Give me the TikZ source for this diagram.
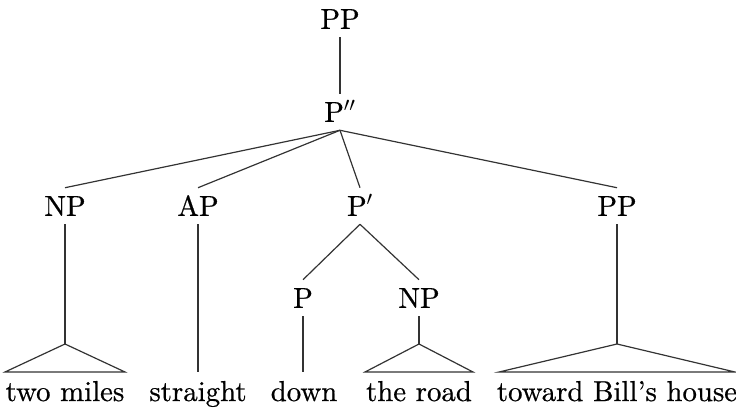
\documentclass[tikz,border=0pt]{standalone}
\usepackage{fontspec}
\usepackage{tikz}
\usetikzlibrary{positioning}
\newfontfamily\treefont{lmroman10-regular}[Extension=.otf,Ligatures=TeX,FakeBold=0.6]

\begin{document}
\begin{tikzpicture}[x=0.025cm,y=-0.025cm,
  cat/.style={inner xsep=1pt,inner ysep=5.8pt,text height=14pt,text depth=0pt,font=\treefont\fontsize{20.5}{24}\selectfont},
  word/.style={anchor=base,inner sep=0pt,font=\treefont\fontsize{20.5}{24}\selectfont},
  branch/.style={line width=0.85pt,black!80}]
\useasboundingbox (0,0) rectangle (736,408);
\node[cat] (pp) at (340,19) {PP};
\node[cat] (pbar2) at (340,112) {P$''$};
\node[cat] (np) at (65,206) {NP};
\node[cat] (ap) at (198,206) {AP};
\node[cat] (pbar) at (360,206) {P$'$};
\node[cat] (pp2) at (617,206) {PP};
\node[cat] (p) at (303,298) {P};
\node[cat] (np2) at (419,298) {NP};
\node[word] (twomiles) at (65,401) {two miles};
\node[word] (straight) at (198,401) {straight};
\node[word] (down) at (304,401) {down};
\node[word] (theroad) at (419,401) {the road};
\node[word] (toward) at (617,401) {toward Bill’s house};
\coordinate (np-top) at (65,344);
\coordinate (np-l) at (5,372);
\coordinate (np-r) at (125,372);
\coordinate (np2-top) at (419,344);
\coordinate (np2-l) at (365,372);
\coordinate (np2-r) at (473,372);
\coordinate (pp2-top) at (617,344);
\coordinate (pp2-l) at (499,372);
\coordinate (pp2-r) at (735,372);
\coordinate (ap-end) at (198,372);
\coordinate (p-end) at (303,372);
\draw[branch] (pp.south) -- (pbar2.north);
\draw[branch] (pbar2.south) -- (np.north);
\draw[branch] (pbar2.south) -- (ap.north);
\draw[branch] (pbar2.south) -- (pbar.north);
\draw[branch] (pbar2.south) -- (pp2.north);
\draw[branch] (pbar.south) -- (p.north);
\draw[branch] (pbar.south) -- (np2.north);
\draw[branch] (ap.south) -- (ap-end);
\draw[branch] (p.south) -- (p-end);
\draw[branch] (np.south) -- (np-top);
\draw[branch] (np-top) -- (np-l) -- (np-r) -- cycle;
\draw[branch] (np2.south) -- (np2-top);
\draw[branch] (np2-top) -- (np2-l) -- (np2-r) -- cycle;
\draw[branch] (pp2.south) -- (pp2-top);
\draw[branch] (pp2-top) -- (pp2-l) -- (pp2-r) -- cycle;
\end{tikzpicture}
\end{document}
